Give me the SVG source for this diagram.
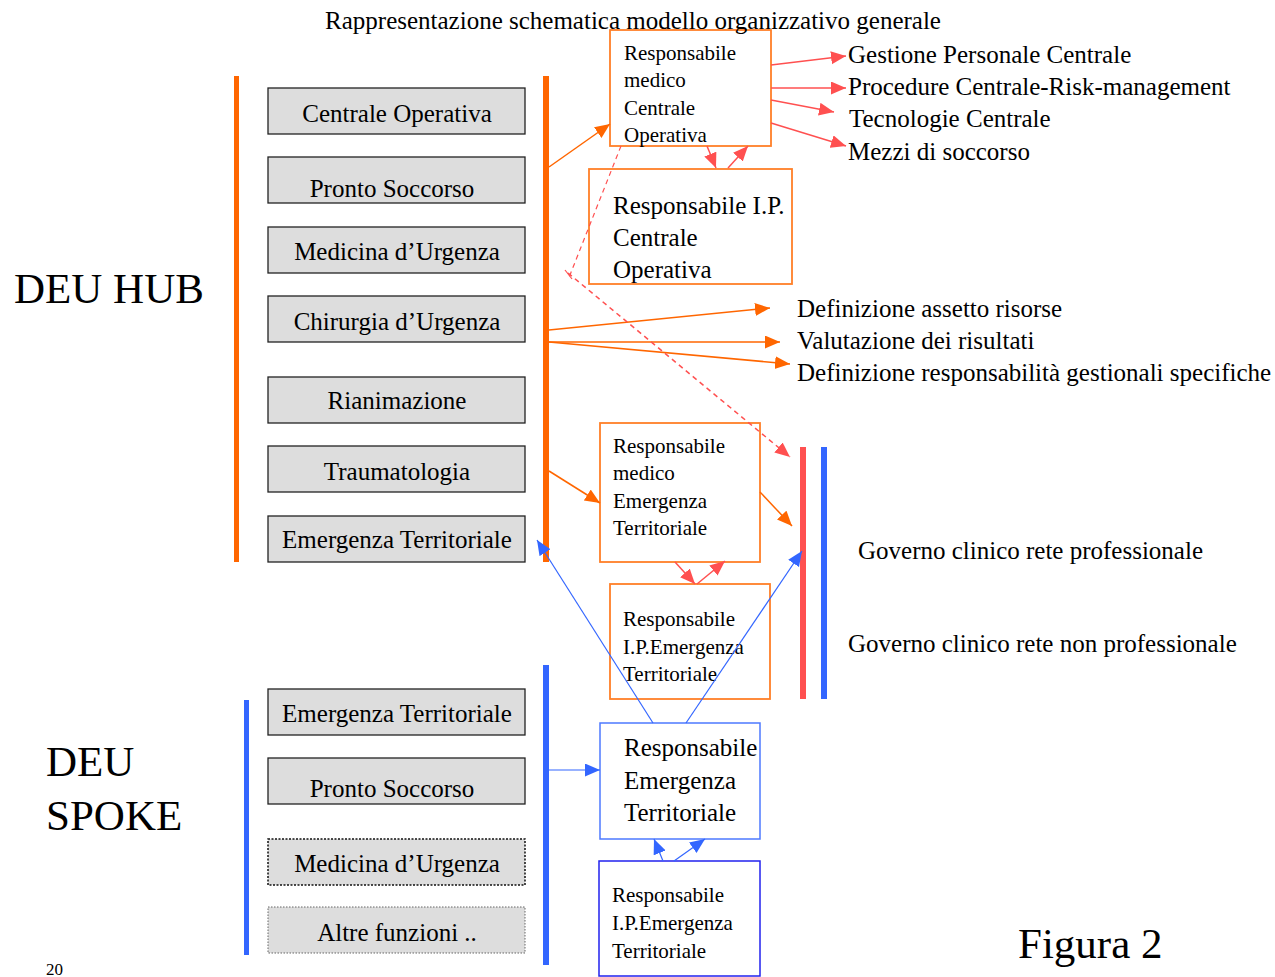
<svg xmlns="http://www.w3.org/2000/svg" width="1275" height="977" viewBox="0 0 1275 977">
<style>
text{font-family:"Liberation Serif","Times New Roman",serif;fill:#000}
.t25{font-size:25px}
.t21{font-size:21px}
.big{font-size:43px}
.gray{fill:#DDDDDD;stroke:#222;stroke-width:1.3}
.ob{fill:#fff;stroke:#FF7F27;stroke-width:1.8}
.bb{fill:#fff;stroke:#4D79FF;stroke-width:1.5}
.db{fill:#fff;stroke:#2222EE;stroke-width:1.5}
.lo{stroke:#FF6600;stroke-width:1.5;fill:none;marker-end:url(#ao)}
.lr{stroke:#FF5050;stroke-width:1.5;fill:none;marker-end:url(#ar)}
.lb{stroke:#3366FF;stroke-width:1.2;fill:none;marker-end:url(#ab)}
</style>
<defs>
<marker id="ao" markerUnits="userSpaceOnUse" markerWidth="16" markerHeight="14" refX="15" refY="6.5" orient="auto"><path d="M0,0 L15,6.5 L0,13 z" fill="#FF6600"/></marker>
<marker id="ar" markerUnits="userSpaceOnUse" markerWidth="16" markerHeight="14" refX="15" refY="6.5" orient="auto"><path d="M0,0 L15,6.5 L0,13 z" fill="#FF5050"/></marker>
<marker id="ab" markerUnits="userSpaceOnUse" markerWidth="16" markerHeight="14" refX="15" refY="6.5" orient="auto"><path d="M0,0 L15,6.5 L0,13 z" fill="#3366FF"/></marker>
</defs>
<rect width="1275" height="977" fill="#fff"/>

<g id="bars">
<rect x="234" y="76" width="5" height="486" fill="#FF6600"/>
<rect x="543" y="76" width="6" height="486" fill="#FF6600"/>
<rect x="244" y="700" width="5" height="255" fill="#3366FF"/>
<rect x="543" y="665" width="6" height="300" fill="#3366FF"/>
<rect x="800" y="447" width="6" height="252" fill="#FF5050"/>
<rect x="821" y="447" width="6" height="252" fill="#3366FF"/>
</g>

<g id="hub-boxes">
<g id="hub-co"><rect class="gray" x="268" y="88" width="257" height="46"/><text class="t25" x="397" y="122" text-anchor="middle">Centrale Operativa</text></g>
<g id="hub-ps"><rect class="gray" x="268" y="157" width="257" height="46"/><text class="t25" x="392" y="197" text-anchor="middle">Pronto Soccorso</text></g>
<g id="hub-mu"><rect class="gray" x="268" y="227" width="257" height="46"/><text class="t25" x="397" y="260" text-anchor="middle">Medicina d’Urgenza</text></g>
<g id="hub-cu"><rect class="gray" x="268" y="296" width="257" height="46"/><text class="t25" x="397" y="330" text-anchor="middle">Chirurgia d’Urgenza</text></g>
<g id="hub-ri"><rect class="gray" x="268" y="377" width="257" height="46"/><text class="t25" x="397" y="409" text-anchor="middle">Rianimazione</text></g>
<g id="hub-tr"><rect class="gray" x="268" y="446" width="257" height="46"/><text class="t25" x="397" y="480" text-anchor="middle">Traumatologia</text></g>
<g id="hub-et"><rect class="gray" x="268" y="516" width="257" height="46"/><text class="t25" x="397" y="548" text-anchor="middle">Emergenza Territoriale</text></g>
</g>

<g id="spoke-boxes">
<g id="sp-et"><rect class="gray" x="268" y="689" width="257" height="46"/><text class="t25" x="397" y="722" text-anchor="middle">Emergenza Territoriale</text></g>
<g id="sp-ps"><rect class="gray" x="268" y="758" width="257" height="46"/><text class="t25" x="392" y="797" text-anchor="middle">Pronto Soccorso</text></g>
<g id="sp-mu"><rect x="268" y="839" width="257" height="46" fill="#DDDDDD" stroke="#111" stroke-width="1.5" stroke-dasharray="2,1.5"/><text class="t25" x="397" y="872" text-anchor="middle">Medicina d’Urgenza</text></g>
<g id="sp-af"><rect x="268" y="907" width="257" height="46" fill="#DDDDDD" stroke="#666" stroke-width="1" stroke-dasharray="1.5,1.5"/><text class="t25" x="397" y="941" text-anchor="middle">Altre funzioni ..</text></g>
</g>

<g id="n-medico-co"><rect class="ob" x="610" y="30" width="161" height="116"/>
<text class="t21" x="624" y="60">Responsabile</text><text class="t21" x="624" y="87">medico</text><text class="t21" x="624" y="115">Centrale</text><text class="t21" x="624" y="142">Operativa</text></g>
<g id="n-ip-co"><rect class="ob" x="589" y="169" width="203" height="115"/>
<text class="t25" x="613" y="214">Responsabile I.P.</text><text class="t25" x="613" y="246">Centrale</text><text class="t25" x="613" y="278">Operativa</text></g>
<g id="n-medico-et"><rect class="ob" x="600" y="423" width="160" height="139"/>
<text class="t21" x="613" y="453">Responsabile</text><text class="t21" x="613" y="480">medico</text><text class="t21" x="613" y="508">Emergenza</text><text class="t21" x="613" y="535">Territoriale</text></g>
<g id="n-ip-et-hub"><rect class="ob" x="610" y="584" width="160" height="115"/>
<text class="t21" x="623" y="626">Responsabile</text><text class="t21" x="623" y="654">I.P.Emergenza</text><text class="t21" x="623" y="681">Territoriale</text></g>
<g id="n-resp-et"><rect class="bb" x="600" y="723" width="160" height="116"/>
<text class="t25" x="624" y="756">Responsabile</text><text class="t25" x="624" y="789">Emergenza</text><text class="t25" x="624" y="821">Territoriale</text></g>
<g id="n-ip-et-spoke"><rect class="db" x="599" y="861" width="161" height="115"/>
<text class="t21" x="612" y="902">Responsabile</text><text class="t21" x="612" y="930">I.P.Emergenza</text><text class="t21" x="612" y="958">Territoriale</text></g>

<g id="labels">
<text x="633" y="29" font-size="25" text-anchor="middle">Rappresentazione schematica modello organizzativo generale</text>
<text class="big" x="14" y="303">DEU HUB</text>
<text class="big" x="46" y="776">DEU</text>
<text class="big" x="46" y="830">SPOKE</text>
<text class="big" x="1018" y="958">Figura 2</text>
<text x="46" y="975" font-size="17">20</text>
<text class="t25" x="848" y="63">Gestione Personale Centrale</text>
<text class="t25" x="848" y="95">Procedure Centrale-Risk-management</text>
<text class="t25" x="849" y="127">Tecnologie Centrale</text>
<text class="t25" x="848" y="160">Mezzi di soccorso</text>
<text class="t25" x="797" y="317">Definizione assetto risorse</text>
<text class="t25" x="797" y="349">Valutazione dei risultati</text>
<text class="t25" x="797" y="381">Definizione responsabilità gestionali specifiche</text>
<text class="t25" x="858" y="559">Governo clinico rete professionale</text>
<text class="t25" x="848" y="652">Governo clinico rete non professionale</text>
</g>

<g id="connectors">
<path class="lo" d="M549,167 L610,124"/>
<path class="lo" d="M549,330 L770,308"/>
<path class="lo" d="M549,342 L780,342"/>
<path class="lo" d="M549,342 L790,364"/>
<path class="lo" d="M549,471 L600,503"/>
<path class="lo" d="M760,492 L792,526"/>
<path class="lr" d="M771,65 L846,56"/>
<path class="lr" d="M771,88 L846,88"/>
<path class="lr" d="M771,100 L834,112"/>
<path class="lr" d="M771,123 L846,146"/>
<path class="lr" d="M707,146 L716,168"/>
<path class="lr" d="M728,168 L748,146"/>
<path class="lr" d="M675,562 L695,584"/>
<path class="lr" d="M697,584 L725,561"/>
<path d="M621,146 L568,280" stroke="#FF5050" stroke-width="1.2" stroke-dasharray="5,4" fill="none"/>
<path d="M565,270 L572,279" stroke="#FF5050" stroke-width="1.2" fill="none"/>
<path class="lr" d="M568,273 L790,457" stroke-width="1.2" stroke-dasharray="5,4"/>
<path class="lb" d="M653,723 L537,540"/>
<path class="lb" d="M686,723 L802,551"/>
<path class="lb" d="M549,770 L600,770"/>
<path class="lb" d="M663,861 L654,839"/>
<path class="lb" d="M674,861 L705,839"/>
</g>
</svg>
